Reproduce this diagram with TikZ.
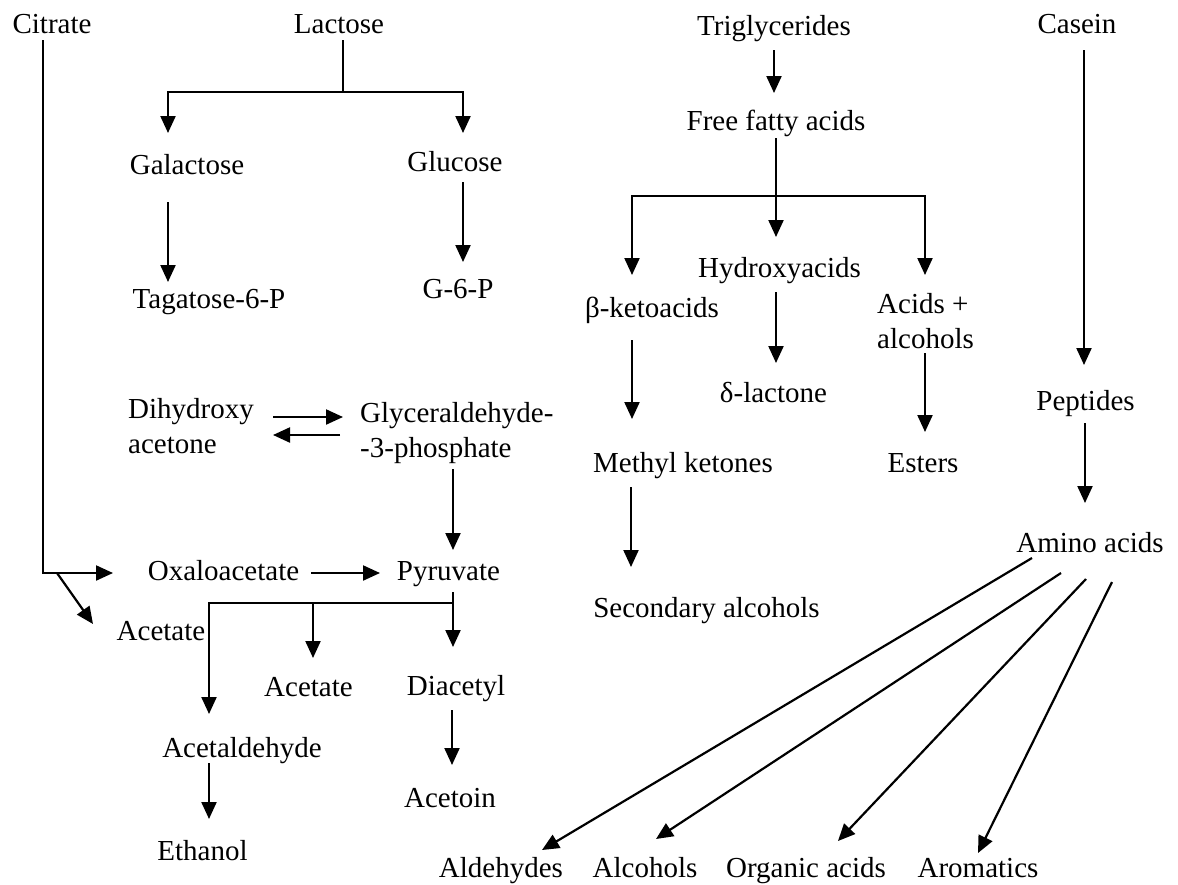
\documentclass[tikz,border=0pt]{standalone}
\usepackage{fontspec}
\setmainfont{Liberation Serif}
\usetikzlibrary{arrows.meta}
\begin{document}
\begin{tikzpicture}[x=1pt,y=-1pt,
  lab/.style={inner sep=0pt, anchor=base, font=\fontsize{29}{35}\selectfont},
  two/.style={inner sep=0pt, anchor=north west, align=left, font=\fontsize{29}{35}\selectfont},
  arr/.style={line width=2.2pt, -{Triangle[length=17pt,width=15pt]}},
  ln/.style={line width=2.2pt}]
\useasboundingbox (0,0) rectangle (1178,884);
% nodes
\node[lab] (cit) at (52,33) {Citrate};
\node[lab] (lac) at (339,33) {Lactose};
\node[lab] (tri) at (774,35) {Triglycerides};
\node[lab] (cas) at (1077,33) {Casein};
\node[lab] (gal) at (187,174) {Galactose};
\node[lab] (glu) at (455,171) {Glucose};
\node[lab] (tag) at (209,308) {Tagatose-6-P};
\node[lab] (g6p) at (458,298) {G-6-P};
\node[lab] (ffa) at (776,130) {Free fatty acids};
\node[lab] (hyd) at (779.5,277) {Hydroxyacids};
\node[lab] (bke) at (652,317) {β-ketoacids};
\node[two] (aca) at (877,293) {Acids +\\alcohols};
\node[lab] (dla) at (773.5,402) {δ-lactone};
\node[lab] (mke) at (683,472) {Methyl ketones};
\node[lab] (est) at (923,472) {Esters};
\node[lab] (sal) at (706.5,617) {Secondary alcohols};
\node[two] (dih) at (128,398) {Dihydroxy\\acetone};
\node[two] (gly) at (360,402) {Glyceraldehyde-\\-3-phosphate};
\node[lab] (oxa) at (223.5,580) {Oxaloacetate};
\node[lab] (pyr) at (448.5,580) {Pyruvate};
\node[lab] (ac1) at (161,640) {Acetate};
\node[lab] (ac2) at (308.5,696) {Acetate};
\node[lab] (dia) at (456,695) {Diacetyl};
\node[lab] (ald) at (242,757) {Acetaldehyde};
\node[lab] (atn) at (450,807) {Acetoin};
\node[lab] (eth) at (202.5,860) {Ethanol};
\node[lab] (pep) at (1085.5,410) {Peptides};
\node[lab] (ami) at (1090,552) {Amino acids};
\node[lab] (b1) at (501,877) {Aldehydes};
\node[lab] (b2) at (645,877) {Alcohols};
\node[lab] (b3) at (806,877) {Organic acids};
\node[lab] (b4) at (978,877) {Aromatics};
% junctions
\coordinate (lacj) at ([shift={(4,59)}]lac.base);
\coordinate (ffaj) at ([shift={(0,66)}]ffa.base);
\coordinate (pyrj) at ([shift={(4.5,23)}]pyr.base);
% citrate
\draw[arr] ([shift={(-9,7)}]cit.base) |- ([shift={(-110.5,-7)}]oxa.base);
\draw[arr] ([shift={(5,540)}]cit.base) -- ([shift={(-68,-16)}]ac1.base);
% lactose
\draw[ln] ([shift={(4,7)}]lac.base) -- (lacj);
\draw[arr] (lacj) -| ([shift={(-19,-41)}]gal.base);
\draw[arr] (lacj) -| ([shift={(8,-38)}]glu.base);
\draw[arr] ([shift={(-19,28)}]gal.base) -- ([shift={(-41,-26)}]tag.base);
\draw[arr] ([shift={(8,11)}]glu.base) -- ([shift={(5,-36)}]g6p.base);
% triglycerides
\draw[arr] ([shift={(0,15)}]tri.base) -- ([shift={(-2,-37)}]ffa.base);
\draw[arr] ([shift={(0,8)}]ffa.base) -- ([shift={(-3.5,-40)}]hyd.base);
\draw[arr] (ffaj) -| ([shift={(-20,-42)}]bke.base);
\draw[arr] (ffaj) -| ([shift={(48,-18)}]aca.north west);
\draw[arr] ([shift={(-20,23)}]bke.base) -- ([shift={(-51,-53)}]mke.base);
\draw[arr] ([shift={(-3.5,15)}]hyd.base) -- ([shift={(2.5,-39)}]dla.base);
\draw[arr] ([shift={(48,60)}]aca.north west) -- ([shift={(2,-40)}]est.base);
\draw[arr] ([shift={(-52,15)}]mke.base) -- ([shift={(-75.5,-50)}]sal.base);
% casein
\draw[arr] ([shift={(7,17)}]cas.base) -- ([shift={(-1.5,-45)}]pep.base);
\draw[arr] ([shift={(-0.5,13)}]pep.base) -- ([shift={(-5,-49)}]ami.base);
\draw[arr] ([shift={(-58,6)}]ami.base) -- ([shift={(41,-27)}]b1.base);
\draw[arr] ([shift={(-29,21)}]ami.base) -- ([shift={(11,-38)}]b2.base);
\draw[arr] ([shift={(-4,27)}]ami.base) -- ([shift={(32,-36)}]b3.base);
\draw[arr] ([shift={(22,30)}]ami.base) -- ([shift={(0,-24)}]b4.base);
% glycolysis
\draw[arr] ([shift={(145,19)}]dih.north west) -- ([shift={(-17,15)}]gly.north west);
\draw[arr] ([shift={(-20,33)}]gly.north west) -- ([shift={(145,37)}]dih.north west);
\draw[arr] ([shift={(93,67)}]gly.north west) -- ([shift={(4.5,-30)}]pyr.base);
\draw[arr] ([shift={(87.5,-7)}]oxa.base) -- ([shift={(-68.5,-7)}]pyr.base);
\draw[arr] ([shift={(4.5,12)}]pyr.base) -- ([shift={(-3,-48)}]dia.base);
\draw[arr] (pyrj) -| ([shift={(-33,-43)}]ald.base);
\draw[arr] ([shift={(-135.5,23)}]pyr.base) -- ([shift={(4.5,-38)}]ac2.base);
\draw[arr] ([shift={(-33,6)}]ald.base) -- ([shift={(6.5,-41)}]eth.base);
\draw[arr] ([shift={(-4,15)}]dia.base) -- ([shift={(2,-42)}]atn.base);
\end{tikzpicture}
\end{document}
